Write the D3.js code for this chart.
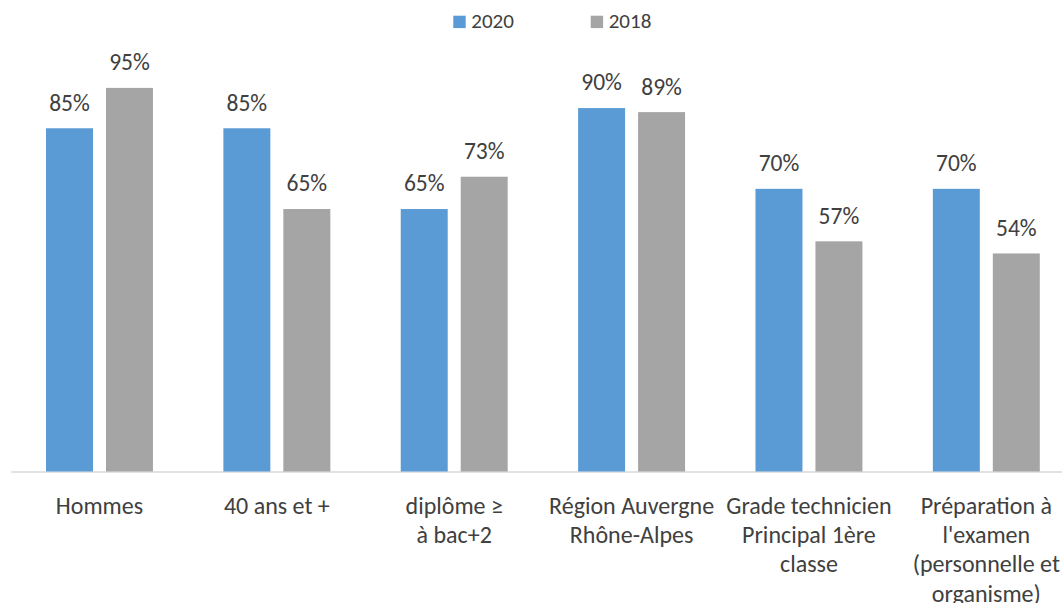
<!DOCTYPE html>
<html>
<head>
<meta charset="utf-8">
<script src="https://cdn.jsdelivr.net/npm/d3@7"></script>
<style>
  body { margin: 0; background: #fff; }
  svg { display: block; font-family: Calibri, Carlito, Lato, sans-serif; }
</style>
</head>
<body>
<script>
// categories ("\n" = line break in the axis label)
var categories = [
  "Hommes",
  "40 ans et +",
  "diplôme ≥\nà bac+2",
  "Région Auvergne\nRhône-Alpes",
  "Grade technicien\nPrincipal 1ère\nclasse",
  "Préparation à\nl'examen\n(personnelle et\norganisme)"
];
var seriesNames = ["2020", "2018"];
var values2020 = [85, 85, 65, 90, 70, 70];
var values2018 = [95, 65, 73, 89, 57, 54];

var colors = { "2020": "#5b9bd5", "2018": "#a5a5a5" };
var textColor = "#404040";

var width = 1062, height = 603;
var baseline = 471.5;

var svg = d3.select('body')
  .append('svg')
  .attr('width', width)
  .attr('height', height);

var x0 = d3.scaleBand()
  .domain(d3.range(categories.length))
  .range([10.8, 1075])
  .padding(0);

var x1 = d3.scaleBand()
  .domain(seriesNames)
  .range([0, x0.bandwidth()])
  .paddingInner(0.2167)
  .paddingOuter(0.587);

var y = d3.scaleLinear()
  .domain([0, 100])
  .range([baseline, 67.7]);

var rows = categories.map(function(c, i) {
  return {
    index: i,
    values: [
      { series: "2020", value: values2020[i] },
      { series: "2018", value: values2018[i] }
    ]
  };
});

// axis first so the bars sit on top of the line
var xAxis = svg.append('g')
  .attr('transform', 'translate(0,' + baseline + ')')
  .call(d3.axisBottom(x0).tickSize(0).tickSizeOuter(0))
  .attr('font-family', null)
  .attr('font-size', null);

xAxis.select('.domain')
  .attr('stroke', '#d9d9d9')
  .attr('stroke-width', 1.5);

xAxis.selectAll('.tick text')
  .attr('fill', textColor)
  .attr('font-size', 24)
  .attr('dy', null)
  .each(function(i) {
    var t = d3.select(this);
    t.text(null);
    categories[i].split('\n').forEach(function(line, k) {
      t.append('tspan')
        .attr('x', 0)
        .attr('y', 42.5 + k * 29.2)
        .text(line);
    });
  });

var groups = svg.selectAll('g.group')
  .data(rows)
  .enter()
  .append('g')
  .attr('class', 'group')
  .attr('transform', function(d) { return 'translate(' + x0(d.index) + ',0)'; });

groups.selectAll('rect')
  .data(function(d) { return d.values; })
  .enter()
  .append('rect')
  .attr('x', function(d) { return x1(d.series); })
  .attr('y', function(d) { return y(d.value); })
  .attr('width', x1.bandwidth())
  .attr('height', function(d) { return y(0) - y(d.value); })
  .attr('fill', function(d) { return colors[d.series]; });

groups.selectAll('text.value')
  .data(function(d) { return d.values; })
  .enter()
  .append('text')
  .attr('class', 'value')
  .attr('x', function(d) { return x1(d.series) + x1.bandwidth() / 2; })
  .attr('y', function(d) { return y(d.value) - 17.6; })
  .attr('text-anchor', 'middle')
  .attr('font-size', 23.5)
  .attr('fill', textColor)
  .text(function(d) { return d.value + '%'; });

// legend
var legend = svg.selectAll('g.legend')
  .data(seriesNames)
  .enter()
  .append('g')
  .attr('class', 'legend')
  .attr('transform', function(d, i) { return 'translate(' + (453.3 + i * 137.4) + ',0)'; });

legend.append('rect')
  .attr('x', 0)
  .attr('y', 15.7)
  .attr('width', 12.4)
  .attr('height', 12.4)
  .attr('fill', function(d) { return colors[d]; });

legend.append('text')
  .attr('x', 18)
  .attr('y', 28.3)
  .attr('font-size', 21)
  .attr('fill', textColor)
  .text(function(d) { return d; });
</script>
</body>
</html>
